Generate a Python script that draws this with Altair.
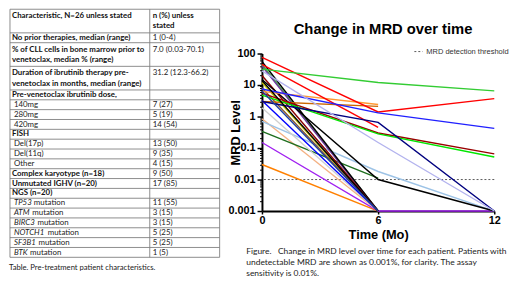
import altair as alt
import pandas as pd

# ---------------- MRD chart data ----------------
patients = [f"P{i}" for i in range(1, 27)]
months = [0, 6, 12]
mrd_m0 = [0.03, 0.15, 0.85, 0.7, 0.34, 1.9, 3.2, 12, 45, 40, 56, 8, 20,
          15, 6.3, 3.0, 45, 75, 32, 7.5, 5.5, 4.8, 3.0, 28, 14, 6.5]
mrd_m6 = [0.001, 0.001, 0.001, 0.018, 0.011, 0.001, 0.001, 0.001, 0.001, 0.001, 0.001, 0.001, 0.001,
          0.01, 2.4, 2.1, 0.45, 1.4, 12, 1.3, 0.3, 0.28, 0.65, 0.15, 0.001, 0.001]
mrd_m12 = [None, 0.001, None, 0.001, None, None, None, None, None, None, None, None, None,
           0.001, None, None, None, 3.7, 6.5, 0.42, 0.065, 0.052, 0.001, 0.001, None, None]
line_colors = ["#ff8000", "#a020f0", "#f4b183", "#9dc3e6", "#1e6e1e", "#cfcfcf", "#0000ff",
               "#c8c800", "#3cb043", "#7030a0", "#000000", "#8b5a2b", "#8b0000",
               "#000000", "#ff9933", "#cc6600", "#ff0000", "#ff0000", "#33cc33", "#2020ff",
               "#990000", "#00e600", "#00007f", "#b3b3ee", "#000000", "#1f3f9f"]
threshold_value = 0.01
threshold_label = "MRD detection threshold"
y_ticks = [0.001, 0.01, 0.1, 1, 10, 100]
y_minor = [k * 10.0 ** e for e in range(-3, 2) for k in range(2, 10)]
x_ticks = [0, 6, 12]

chart_title = "Change in MRD over time"
fig_caption = ["Figure.\u00a0\u00a0\u00a0Change in MRD level over time for each patient. Patients with",
               "undetectable MRD are shown as 0.001%, for clarity. The assay",
               "sensitivity is 0.01%."]
table_caption = "Table. Pre-treatment patient characteristics."

# ---------------- table data ----------------
row_labels = ["Characteristic,  N=26 unless stated",
              "No prior therapies, median (range)",
              "% of CLL cells in bone marrow prior to\nvenetoclax, median % (range)",
              "Duration of ibrutinib therapy pre-\nvenetoclax in months, median (range)",
              "Pre-venetoclax ibrutinib dose,",
              "140mg", "280mg", "420mg",
              "FISH", "Del(17p)", "Del(11q)", "Other",
              "Complex karyotype (n=18)", "Unmutated IGHV (n=20)", "NGS (n=20)",
              "TP53", "ATM", "BIRC3", "NOTCH1", "SF3B1", "BTK"]
row_values = ["n (%) unless\nstated", "1 (0-4)", "7.0 (0.03-70.1)", "31.2 (12.3-66.2)", "",
              "7 (27)", "5 (19)", "14 (54)",
              "", "13 (50)", "9 (35)", "4 (15)",
              "9 (50)", "17 (85)", "",
              "11 (55)", "3 (15)", "3 (15)", "5 (25)", "5 (25)", "1 (5)"]
row_kinds = ["head", "bold", "bold", "bold", "bold",
             "sub", "sub", "sub",
             "bold", "sub", "sub", "sub",
             "bold", "bold", "bold",
             "gene", "gene", "gene", "gene", "gene", "gene"]
gene_suffix = "mutation"

# ---------------- layout (screen px) ----------------
T_LEFT, T_MID, T_RIGHT, T_TOP = 10, 152, 223, 7
ROW_H, EXTRA_LINE_H, LINE_STEP = 10, 14, 10.5
TABLE_FS, CAP_FS, TCAP_FS = 8.0, 8.6, 7.8


def italic_width(s, size):
    em = {"A": .66, "B": .62, "C": .66, "H": .74, "I": .28, "K": .64, "M": .88,
          "N": .74, "O": .78, "P": .58, "R": .62, "S": .53, "T": .57}
    return sum(em.get(c, .58) for c in s) * size


texts, rules = [], []
top = T_TOP
for lab, val, kind in zip(row_labels, row_values, row_kinds):
    lab_lines, val_lines = lab.split("\n"), val.split("\n") if val else []
    n = max(len(lab_lines), len(val_lines), 1)
    h = ROW_H + EXTRA_LINE_H * (n - 1)
    first = top + (5.2 if n == 1 else 7)
    lx = 12 if kind in ("head", "bold") else 14
    lk = "bold" if kind in ("head", "bold") else ("italic" if kind == "gene" else "norm")
    for j, t in enumerate(lab_lines):
        texts.append({"sx": lx, "sy": first + j * LINE_STEP, "text": t, "kind": lk})
    if kind == "gene":
        texts.append({"sx": lx + italic_width(lab, TABLE_FS) + 1.8, "sy": first, "text": gene_suffix,
                      "kind": "norm"})
    for j, t in enumerate(val_lines):
        texts.append({"sx": 155, "sy": first + j * LINE_STEP, "text": t,
                      "kind": "bold" if kind == "head" else "norm"})
    rules.append({"sx": T_LEFT, "sx2": T_RIGHT, "sy": top, "sy2": top})
    top += h
rules.append({"sx": T_LEFT, "sx2": T_RIGHT, "sy": top, "sy2": top})
for vx in (T_LEFT, T_MID, T_RIGHT):
    rules.append({"sx": vx, "sx2": vx, "sy": T_TOP, "sy2": top})

cap_texts = [{"sx": 250, "sy": 256 + i * 11, "text": t, "fs": CAP_FS} for i, t in enumerate(fig_caption)]
cap_texts.append({"sx": 9, "sy": top + 13, "text": table_caption, "fs": TCAP_FS})
title_df = pd.DataFrame([{"sx": 389, "sy": 32, "text": chart_title}])

text_df = pd.DataFrame(texts)
rule_df = pd.DataFrame(rules)
cap_df = pd.DataFrame(cap_texts)

# ---------------- MRD chart ----------------
long = []
for p, a, b, c in zip(patients, mrd_m0, mrd_m6, mrd_m12):
    for t, v in zip(months, (a, b, c)):
        if v is not None:
            long.append({"patient": p, "month": t, "mrd": v})
df = pd.DataFrame(long)

AX_FONT = "Liberation Sans"
axis_style = dict(domainColor="black", domainWidth=2, tickColor="black", tickWidth=1.5,
                  labelFont=AX_FONT, labelFontWeight="bold", labelFontSize=11, labelColor="black",
                  titleFont=AX_FONT, titleFontWeight="bold", titleFontSize=13, titleColor="black",
                  grid=False, labelFlush=False)

x_enc = alt.X("month:Q", scale=alt.Scale(domain=[0, 12], nice=False, zero=False),
              axis=alt.Axis(values=x_ticks, title="Time (Mo)", tickSize=3, labelPadding=1,
                            titlePadding=3, **axis_style))
y_scale = alt.Scale(type="log", domain=[0.001, 100], nice=False)
y_enc = alt.Y("mrd:Q", scale=y_scale,
              axis=alt.Axis(values=y_ticks, format="~g", title="MRD Level", tickSize=5, labelPadding=2,
                            titlePadding=-15, orient="left", **axis_style))

lines = alt.Chart(df).mark_line(strokeWidth=1.4).encode(
    x=x_enc, y=y_enc,
    color=alt.Color("patient:N", scale=alt.Scale(domain=patients, range=line_colors), legend=None),
    order="month:Q")

thr_df = pd.DataFrame({"label": [threshold_label], "mrd": [threshold_value]})
rule = alt.Chart(thr_df).mark_rule(color="#595959", strokeWidth=1).encode(
    y=alt.Y("mrd:Q", scale=y_scale,
            axis=alt.Axis(values=y_minor, labels=False, title=None, domain=False, tickSize=2.5,
                          tickColor="black", tickWidth=1, orient="left", grid=False)),
    strokeDash=alt.StrokeDash("label:N", scale=alt.Scale(range=[[2, 2]]),
                              legend=alt.Legend(title=None, orient="none", legendX=154, legendY=-7,
                                                padding=0, labelFont=AX_FONT, labelFontSize=7.6,
                                                labelColor="#333333", symbolType="stroke",
                                                symbolSize=70, symbolStrokeColor="#595959",
                                                symbolStrokeWidth=1, labelOffset=3)))

plot = alt.layer(rule, lines).resolve_axis(y="independent")

# ---------------- annotation layers (table, title, captions) ----------------
ax = alt.X("sx:Q", scale=alt.Scale(domain=[0, 520], range=[-266, 254], nice=False, zero=False), axis=None)
ay = alt.Y("sy:Q", scale=alt.Scale(domain=[0, 292], range=[-52, 240], nice=False, zero=False), axis=None)
ax2 = alt.X2("sx2:Q")
ay2 = alt.Y2("sy2:Q")

TFONT = "Lato"
t_rules = alt.Chart(rule_df).mark_rule(color="#7f7f7f", strokeWidth=0.9).encode(x=ax, x2=ax2, y=ay, y2=ay2)
t_bold = alt.Chart(text_df).transform_filter(alt.datum.kind == "bold").mark_text(
    font=TFONT, fontWeight="bold", fontSize=TABLE_FS, align="left", baseline="middle", color="#111111"
).encode(x=ax, y=ay, text="text:N")
t_norm = alt.Chart(text_df).transform_filter(alt.datum.kind == "norm").mark_text(
    font=TFONT, fontSize=TABLE_FS, align="left", baseline="middle", color="#222222"
).encode(x=ax, y=ay, text="text:N")
t_ital = alt.Chart(text_df).transform_filter(alt.datum.kind == "italic").mark_text(
    font=TFONT, fontStyle="italic", fontSize=TABLE_FS, align="left", baseline="middle", color="#222222"
).encode(x=ax, y=ay, text="text:N")
t_caps = alt.Chart(cap_df).mark_text(
    font=TFONT, align="left", baseline="alphabetic", color="#222222"
).encode(x=ax, y=ay, text="text:N", size=alt.Size("fs:Q", scale=None))
t_title = alt.Chart(title_df).mark_text(
    font=AX_FONT, fontWeight="bold", fontSize=15, align="center", baseline="alphabetic", color="black"
).encode(x=ax, y=ay, text="text:N")

ann = alt.layer(t_rules, t_bold, t_norm, t_ital, t_caps, t_title)

chart = alt.layer(plot, ann).resolve_scale(x="independent", y="independent").properties(
    width=236, height=160,
    autosize=alt.AutoSizeParams(type="none"),
    padding={"left": 258, "top": 44, "right": 18, "bottom": 80},
    background="white",
).configure_view(stroke=None)

chart.save("out.html", embed_options={"renderer": "svg", "actions": False})
